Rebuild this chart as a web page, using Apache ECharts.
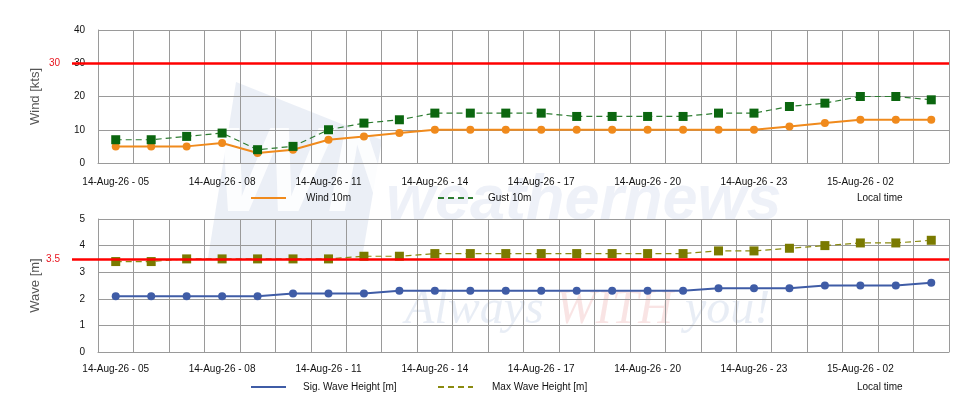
<!DOCTYPE html>
<html>
<head>
<meta charset="utf-8">
<script src="https://cdn.jsdelivr.net/npm/echarts@6/dist/echarts.min.js"></script>
<style>
html, body { margin: 0; padding: 0; background: #fff; }
#chart { width: 980px; height: 420px; }
</style>
</head>
<body>
<div id="chart"></div>
<script>
/*時刻（1時間毎）*/
var hours = [
	'14-Aug-26 - 05', '14-Aug-26 - 06', '14-Aug-26 - 07', '14-Aug-26 - 08',
	'14-Aug-26 - 09', '14-Aug-26 - 10', '14-Aug-26 - 11', '14-Aug-26 - 12',
	'14-Aug-26 - 13', '14-Aug-26 - 14', '14-Aug-26 - 15', '14-Aug-26 - 16',
	'14-Aug-26 - 17', '14-Aug-26 - 18', '14-Aug-26 - 19', '14-Aug-26 - 20',
	'14-Aug-26 - 21', '14-Aug-26 - 22', '14-Aug-26 - 23', '15-Aug-26 - 00',
	'15-Aug-26 - 01', '15-Aug-26 - 02', '15-Aug-26 - 03', '15-Aug-26 - 04'
];
/*風 [kts]*/
var wind10m = [5, 5, 5, 6, 3, 4, 7, 8, 9, 10, 10, 10, 10, 10, 10, 10, 10, 10, 10, 11, 12, 13, 13, 13];
var gust10m = [7, 7, 8, 9, 4, 5, 10, 12, 13, 15, 15, 15, 15, 14, 14, 14, 14, 15, 15, 17, 18, 20, 20, 19];
/*波 [m]*/
var sigWave = [2.1, 2.1, 2.1, 2.1, 2.1, 2.2, 2.2, 2.2, 2.3, 2.3, 2.3, 2.3, 2.3, 2.3, 2.3, 2.3, 2.3, 2.4, 2.4, 2.4, 2.5, 2.5, 2.5, 2.6];
var maxWave = [3.4, 3.4, 3.5, 3.5, 3.5, 3.5, 3.5, 3.6, 3.6, 3.7, 3.7, 3.7, 3.7, 3.7, 3.7, 3.7, 3.7, 3.8, 3.8, 3.9, 4.0, 4.1, 4.1, 4.2];
/*閾値*/
var windLimit = 30;
var waveLimit = 3.5;

var font = 'Liberation Sans, Arial, sans-serif';
var gridColor = '#9a9a9a';

function xAxisFn(idx, margin) {
	return {
		type: 'category',
		gridIndex: idx,
		data: hours,
		boundaryGap: true,
		axisLine: { lineStyle: { color: gridColor, width: 1 } },
		axisTick: { show: false, interval: 0 },
		axisLabel: { interval: 2, color: '#111', fontSize: 10, fontFamily: font, margin: margin },
		splitLine: { show: true, interval: 0, lineStyle: { color: gridColor, width: 1 } }
	};
}

function yAxisFn(idx, name, max, interval) {
	return {
		type: 'value',
		gridIndex: idx,
		min: 0,
		max: max,
		interval: interval,
		name: name,
		nameLocation: 'middle',
		nameGap: 56,
		nameTextStyle: { color: '#555', fontSize: 13, fontFamily: font },
		axisLine: { show: true, lineStyle: { color: gridColor } },
		axisTick: { show: false },
		axisLabel: { color: '#111', fontSize: 10, fontFamily: font, margin: 13 },
		splitLine: { show: true, lineStyle: { color: gridColor, width: 1 } }
	};
}

/*閾値ライン（軸の左まで伸ばす）*/
function limitLine(value, text) {
	return {
		silent: true,
		symbol: 'none',
		lineStyle: { color: '#ff0000', width: 2.5, type: 'solid' },
		label: { show: true, position: 'start', formatter: text, color: '#e8141e', fontSize: 10, fontFamily: font, distance: 12 },
		emphasis: { disabled: true },
		data: [[{ x: 72, yAxis: value }, { x: 949, yAxis: value }]]
	};
}

/*凡例（1項目ずつ配置）*/
function legendFn(name, left, top, gap) {
	return {
		top: top,
		left: left,
		padding: 0,
		itemWidth: 35,
		itemHeight: 10,
		itemStyle: { opacity: 0 },
		textStyle: { color: '#111', fontSize: 10, fontFamily: font, padding: [0, 0, 0, gap] },
		data: [name]
	};
}

var chart = echarts.init(document.getElementById('chart'));
var option = {
	animation: false,
	backgroundColor: '#fff',
	textStyle: { fontFamily: font },
	graphic: [
		{ type: 'polygon', z: -1, shape: { points: [[236, 82], [382, 140], [362, 258], [208, 258]] }, style: { fill: 'rgba(205,215,232,0.4)' } },
		{ type: 'text', z: -1, left: 214, top: 118, style: { text: 'WN', font: 'italic bold 120px Liberation Sans', fill: 'rgba(255,255,255,0.85)' } },
		{ type: 'text', z: -1, left: 386, top: 170, style: { text: 'weathernews', font: 'italic bold 63px Liberation Sans', fill: 'rgba(205,215,235,0.35)' } },
		{ type: 'text', z: -1, left: 405, top: 286, style: { rich: {
			a: { font: 'italic 48px Liberation Serif', fill: 'rgba(205,214,232,0.45)' },
			b: { font: 'italic 48px Liberation Serif', fill: 'rgba(242,196,196,0.45)' }
		}, text: '{a|Always }{b|WITH}{a| you!}' } },
		{ type: 'text', left: 857, top: 193, style: { text: 'Local time', font: '10px Liberation Sans', fill: '#111' } },
		{ type: 'text', left: 857, top: 382, style: { text: 'Local time', font: '10px Liberation Sans', fill: '#111' } }
	],
	legend: [
		legendFn('Wind 10m', 250, 193, 15),
		legendFn('Gust 10m', 437, 193, 10),
		legendFn('Sig. Wave Height [m]', 250, 382, 12),
		legendFn('Max Wave Height [m]', 437, 382, 14)
	],
	grid: [
		{ left: 98, right: 31, top: 30, height: 133 },
		{ left: 98, right: 31, top: 219, height: 133 }
	],
	xAxis: [xAxisFn(0, 14), xAxisFn(1, 12)],
	yAxis: [yAxisFn(0, 'Wind [kts]', 40, 10), yAxisFn(1, 'Wave [m]', 5, 1)],
	series: [{
		name: 'Wind 10m',
		type: 'line',
		xAxisIndex: 0,
		yAxisIndex: 0,
		data: wind10m,
		symbol: 'circle',
		symbolSize: 8,
		itemStyle: { color: '#f08a1c' },
		lineStyle: { color: '#f08a1c', width: 2 },
		markLine: limitLine(windLimit, '30')
	}, {
		name: 'Gust 10m',
		type: 'line',
		xAxisIndex: 0,
		yAxisIndex: 0,
		data: gust10m,
		symbol: 'rect',
		symbolSize: 9,
		itemStyle: { color: '#0b660f' },
		lineStyle: { color: '#2e7d32', width: 1.2, type: [6, 4] }
	}, {
		name: 'Sig. Wave Height [m]',
		type: 'line',
		xAxisIndex: 1,
		yAxisIndex: 1,
		data: sigWave,
		symbol: 'circle',
		symbolSize: 8,
		itemStyle: { color: '#3f5ca6' },
		lineStyle: { color: '#3f5ca6', width: 2 },
		markLine: limitLine(waveLimit, '3.5')
	}, {
		name: 'Max Wave Height [m]',
		type: 'line',
		xAxisIndex: 1,
		yAxisIndex: 1,
		data: maxWave,
		symbol: 'rect',
		symbolSize: 9,
		itemStyle: { color: '#7a7a00' },
		lineStyle: { color: '#8a8a10', width: 1.2, type: [6, 4] }
	}]
};
chart.setOption(option);
</script>
</body>
</html>
